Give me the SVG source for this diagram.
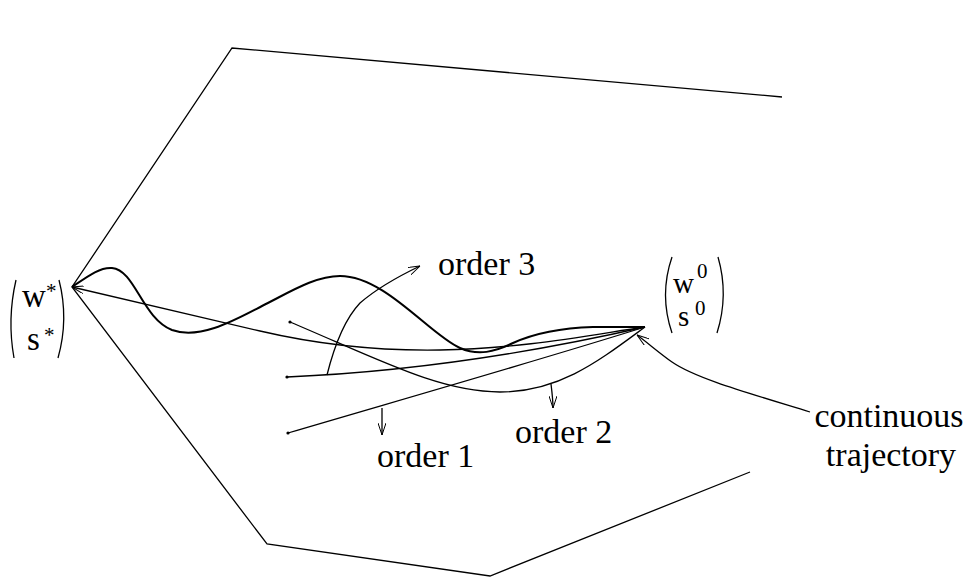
<svg xmlns="http://www.w3.org/2000/svg" width="976" height="583" viewBox="0 0 976 583">
<style>
.ln{fill:none;stroke:#000;stroke-width:1.3}
.bold{fill:none;stroke:#000;stroke-width:2}
.t{font-family:"Liberation Serif","Times New Roman",serif;font-size:34px;fill:#000}
.m{font-family:"Liberation Serif","Times New Roman",serif;font-size:33px;fill:#000}
.m2{font-family:"Liberation Serif","Times New Roman",serif;font-size:29px;fill:#000}
.sup{font-family:"Liberation Serif","Times New Roman",serif;font-size:21px;fill:#000}
</style>
<defs>
<marker id="ah" viewBox="0 0 12 8" refX="12" refY="4" markerWidth="12" markerHeight="8" markerUnits="userSpaceOnUse" orient="auto">
<path d="M0,0 L12,4 L0,8" fill="none" stroke="#000" stroke-width="1"/>
</marker>
</defs>
<rect width="976" height="583" fill="#fff"/>
<g id="region">
<polyline class="ln" points="782,97 232,48 72,287 267,544 490,576 750,472"/>
</g>
<g id="connectors">
<path class="ln" d="M645,327 C590,335 520,349 440,350 C380,351 320,345 260,331 L72,287" marker-end="url(#ah)"/>
<path class="bold" d="M72,287 C88,276 100,267 112,268 C135,270 142,318 172,330 C200,340 235,320 262,306 C290,292 315,276 340,276 C385,276 430,335 460,348 C478,356 495,352 513,343 C535,333 560,328 593,327 L645,327"/>
<path class="ln" d="M290,322 C380,360 440,392 500,392 C560,392 600,360 645,327"/>
<path class="ln" d="M287,377 C380,373 500,360 645,327"/>
<path class="ln" d="M288,433 C400,400 540,360 645,327"/>
<path class="ln" d="M327,375 C332,355 342,322 360,303 C375,290 395,278 420,266" marker-end="url(#ah)"/>
<path class="ln" d="M382,408 L382,435" marker-end="url(#ah)"/>
<path class="ln" d="M551,384 C552,392 553,400 553,408" marker-end="url(#ah)"/>
<path class="ln" d="M810,412 C745,392 695,378 672,362 C658,352 648,343 637,335" marker-end="url(#ah)"/>
</g>
<g id="dots">
<circle cx="290" cy="322" r="1.6"/>
<circle cx="287" cy="377" r="1.6"/>
<circle cx="288" cy="433" r="1.6"/>
</g>
<g id="start-state">
<path class="ln" d="M16,280 Q7,319 14,358"/>
<path class="ln" d="M59,280 Q69,319 58,358"/>
<text class="m" x="22" y="307">w</text>
<text class="sup" x="46" y="298">*</text>
<text class="m" x="27" y="350">s</text>
<text class="sup" x="44" y="342">*</text>
</g>
<g id="end-state">
<path class="ln" d="M672,257 Q659,295 672,333"/>
<path class="ln" d="M718,257 Q729,295 717,333"/>
<text class="m2" x="673" y="293">w</text>
<text class="sup" x="697" y="278">0</text>
<text class="m2" x="678" y="326">s</text>
<text class="sup" x="695" y="315">0</text>
</g>
<g id="labels">
<text class="t" x="438" y="275">order 3</text>
<text class="t" x="377" y="467">order 1</text>
<text class="t" x="515" y="443">order 2</text>
<text class="t" x="889" y="427" text-anchor="middle">continuous</text>
<text class="t" x="891" y="466" text-anchor="middle">trajectory</text>
</g>
</svg>
